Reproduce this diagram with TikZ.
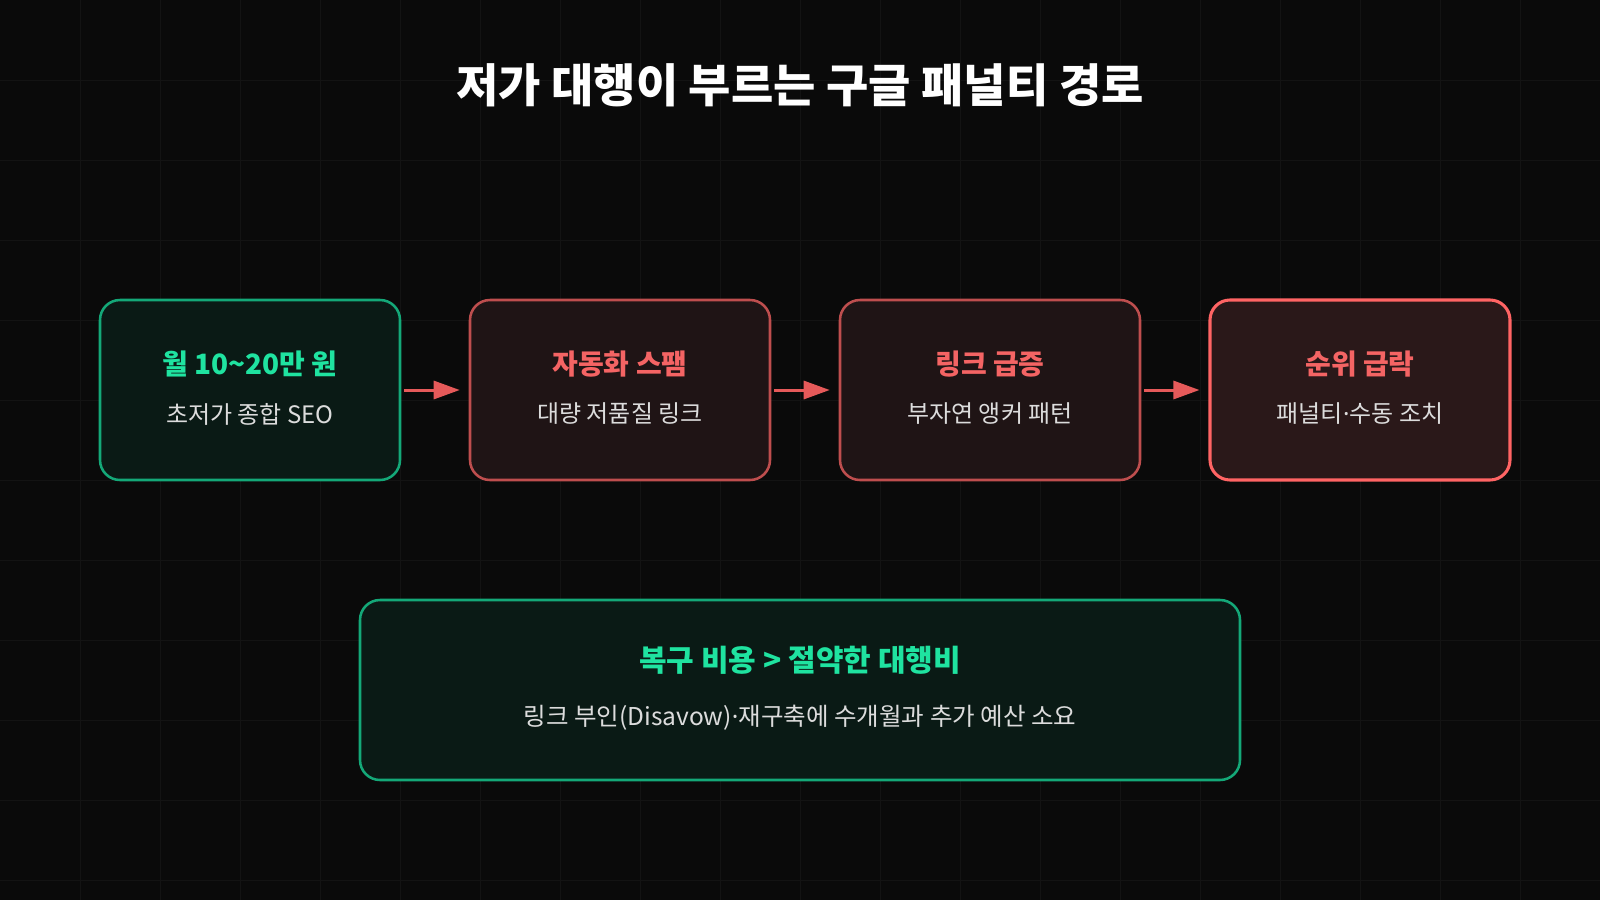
\documentclass[tikz,border=0pt]{standalone}
\usepackage{fontspec}
\setmainfont{Noto Sans CJK KR}
\newfontfamily\dotfont{Noto Sans}
\usetikzlibrary{positioning,arrows.meta}

\definecolor{bgdark}{HTML}{0A0A0A}
\definecolor{gridgray}{HTML}{131313}
\definecolor{greenline}{HTML}{14A878}
\definecolor{greenfill}{HTML}{0A1A15}
\definecolor{greentext}{HTML}{1FE3A0}
\definecolor{redline}{HTML}{BE4E4E}
\definecolor{redfill}{HTML}{1F1415}
\definecolor{hotline}{HTML}{FF6464}
\definecolor{hotfill}{HTML}{2A1819}
\definecolor{redtext}{HTML}{F46464}
\definecolor{arrowred}{HTML}{E65A5A}
\definecolor{subgray}{HTML}{DCDCDC}

\newcommand{\middot}{{\dotfont ·}}

\tikzset{
  stagebox/.style={draw, rounded corners=15pt, line width=1.9pt, minimum width=225pt, minimum height=135pt, inner sep=0pt},
  goodbox/.style={stagebox, draw=greenline, fill=greenfill},
  badbox/.style={stagebox, draw=redline, fill=redfill},
  worstbox/.style={stagebox, draw=hotline, fill=hotfill, line width=2.3pt},
  headtext/.style={inner sep=0pt, font=\bfseries\fontsize{21}{24}\selectfont},
  subtext/.style={inner sep=0pt, text=subgray, font=\fontsize{18}{21}\selectfont},
  flowarrow/.style={draw=arrowred, line width=2.25pt, -{Triangle[length=19.5pt,width=13.5pt]}, shorten <=2.25pt, shorten >=6.75pt},
}

\begin{document}
\begin{tikzpicture}[x=0.75pt,y=0.75pt,yscale=-1,xscale=1]
    % background and grid
    \fill[bgdark] (0,0) rectangle (1600,900);
    \useasboundingbox (0,0) rectangle (1600,900);
    \foreach \gx in {80,160,...,1520} \draw[gridgray, line width=0.75pt] (\gx,0) -- (\gx,900);
    \foreach \gy in {80,160,...,880} \draw[gridgray, line width=0.75pt] (0,\gy) -- (1600,\gy);

    % Title
    \node[inner sep=0pt, text=white, font=\bfseries\fontsize{34.5}{38}\selectfont] (title) at (800,85) {저가 대행이 부르는 구글 패널티 경로};

    % stage boxes
    \node[goodbox] (price) at (250,390) {};
    \node[badbox] (spam) at (620,390) {};
    \node[badbox] (surge) at (990,390) {};
    \node[worstbox] (drop) at (1360,390) {};

    % box texts
    \node[headtext, text=greentext] (pricehead) at ([yshift=-19.5]price.center) {월 10\textasciitilde20만 원};
    \node[subtext] (pricesub) at ([yshift=18]price.center) {초저가 종합 SEO};
    \node[headtext, text=redtext] (spamhead) at ([yshift=-19.5]spam.center) {자동화 스팸};
    \node[subtext] (spamsub) at ([yshift=18]spam.center) {대량 저품질 링크};
    \node[headtext, text=redtext] (surgehead) at ([yshift=-19.5]surge.center) {링크 급증};
    \node[subtext] (surgesub) at ([yshift=18]surge.center) {부자연 앵커 패턴};
    \node[headtext, text=redtext] (drophead) at ([yshift=-19.5]drop.center) {순위 급락};
    \node[subtext] (dropsub) at ([yshift=18]drop.center) {패널티\middot 수동 조치};

    % arrows
    \draw[flowarrow] (price) -- (spam);
    \draw[flowarrow] (spam) -- (surge);
    \draw[flowarrow] (surge) -- (drop);

    % cost box
    \node[goodbox, minimum width=660pt] (cost) at (800,690) {};
    \node[headtext, text=greentext, font=\bfseries\fontsize{22.5}{26}\selectfont] (costhead) at ([yshift=-22.5]cost.center) {복구 비용 > 절약한 대행비};
    \node[subtext, font=\fontsize{18.4}{21}\selectfont] (costsub) at ([yshift=21]cost.center) {링크 부인(Disavow)\middot 재구축에 수개월과 추가 예산 소요};

\end{tikzpicture}
\end{document}
